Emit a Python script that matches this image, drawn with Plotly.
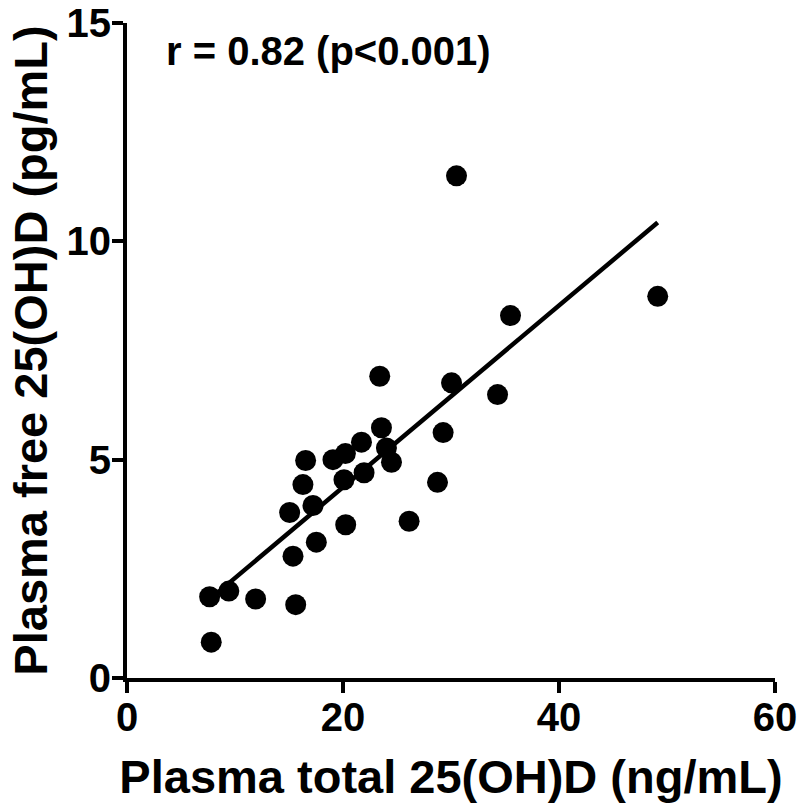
import plotly.graph_objects as go

# Data
total_25ohd = [23.40, 30.05, 23.56, 29.27, 21.71, 24.02, 16.54, 19.07, 20.22, 24.49,
               16.29, 20.09, 21.95, 28.75, 15.06, 17.22, 20.25, 26.12, 17.53, 15.37,
               7.65, 9.43, 11.91, 15.62, 7.80, 30.51, 49.14, 35.51, 34.31]
free_25ohd = [6.91, 6.76, 5.73, 5.62, 5.40, 5.27, 4.98, 5.00, 5.14, 4.94,
              4.43, 4.54, 4.70, 4.48, 3.79, 3.95, 3.51, 3.59, 3.11, 2.79,
              1.86, 1.99, 1.81, 1.68, 0.82, 11.50, 8.74, 8.30, 6.49]

# Regression line
fit_slope = 0.208
fit_intercept = 0.21

x_ticks = [0, 20, 40, 60]
y_ticks = [0, 5, 10, 15]
annotation_text = "r = 0.82 (p<0.001)"
x_title = "Plasma total 25(OH)D (ng/mL)"
y_title = "Plasma free 25(OH)D (pg/mL)"

line_x = [min(total_25ohd), max(total_25ohd)]
line_y = [fit_intercept + fit_slope * v for v in line_x]

FONT = "Arial, 'Liberation Sans', sans-serif"

fig = go.Figure()
fig.add_trace(go.Scatter(
    x=line_x, y=line_y, mode="lines",
    line=dict(color="black", width=4.5),
    showlegend=False, hoverinfo="skip",
))
fig.add_trace(go.Scatter(
    x=total_25ohd, y=free_25ohd, mode="markers",
    marker=dict(color="black", size=21, line=dict(width=0)),
    showlegend=False,
))

fig.add_annotation(
    x=3.4, y=14.35, xref="x", yref="y", text=annotation_text,
    showarrow=False, xanchor="left", yanchor="middle",
    font=dict(family=FONT, size=40, color="black", weight="bold"),
)

axis_common = dict(
    showline=True, linecolor="black", linewidth=4,
    ticks="outside", ticklen=11, tickwidth=4, tickcolor="black",
    showgrid=False, zeroline=False, automargin=False,
    ticklabeloverflow="allow",
    tickfont=dict(family=FONT, size=40, color="black", weight="bold"),
)

fig.update_layout(
    width=800, height=809,
    margin=dict(l=127, r=25, t=23, b=131, autoexpand=False),
    paper_bgcolor="white", plot_bgcolor="white",
    font=dict(family=FONT, color="black"),
    xaxis=dict(
        range=[0, 60], tickvals=x_ticks, ticklabelstandoff=-10, **axis_common,
        title=dict(text=x_title, standoff=23,
                   font=dict(family=FONT, size=47, color="black", weight="bold")),
    ),
    yaxis=dict(
        range=[0, 15], tickvals=y_ticks, ticklabelstandoff=-7, **axis_common,
        title=dict(text=y_title, standoff=5,
                   font=dict(family=FONT, size=47, color="black", weight="bold")),
    ),
)

# remove the browser's default 8px body margin so the figure fills the window
fig.write_html(
    "out.html",
    config={"displayModeBar": False},
    post_script="document.body.style.margin='0';document.body.style.overflow='hidden';",
)
